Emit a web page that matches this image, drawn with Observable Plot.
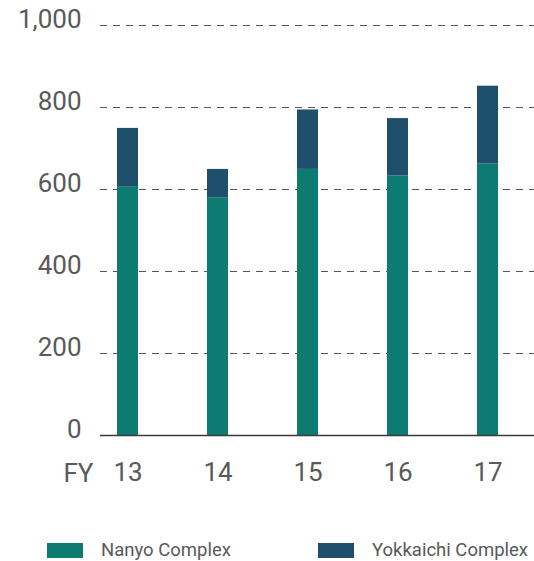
<!DOCTYPE html>
<html>
<head>
<meta charset="utf-8">
<script src="https://cdn.jsdelivr.net/npm/d3@7"></script>
<script src="https://cdn.jsdelivr.net/npm/@observablehq/plot@0.6"></script>
<style>
  html, body { margin: 0; padding: 0; background: #fff; }
  body { width: 534px; height: 561px; overflow: hidden; position: relative; font-family: Roboto, "Liberation Sans", sans-serif; }
  #chart svg { display: block; }
  .item { position: absolute; top: 541px; height: 18px; display: flex; align-items: center; color: #58595b; font-size: 18.5px; line-height: 18px; white-space: nowrap; }
  .sw { width: 36px; height: 15px; margin-right: 18px; flex: none; }
</style>
</head>
<body>
<div id="chart"></div>
<div id="legend"></div>
<script>
const years = ["13", "14", "15", "16", "17"];
const series = ["Nanyo Complex", "Yokkaichi Complex"];
const nanyo = [607, 579, 649, 633, 662];
const yokkaichi = [142, 70, 145, 140, 190];
const colors = ["#0e7b73", "#1e506b"];
const yTicks = [0, 200, 400, 600, 800, 1000];

const data = [];
years.forEach((y, i) => {
  data.push({year: y, series: series[0], value: nanyo[i]});
  data.push({year: y, series: series[1], value: yokkaichi[i]});
});

const chart = Plot.plot({
  width: 534,
  height: 500,
  marginLeft: 100,
  marginRight: 0,
  marginTop: 25,
  marginBottom: 65,
  style: {fontFamily: "Roboto, 'Liberation Sans', sans-serif", fontSize: "26px", color: "#58595b", background: "#fff"},
  x: {domain: years, paddingInner: 0.762, paddingOuter: 0.279, align: 0.32, label: null},
  y: {domain: [0, 1000], label: null},
  color: {domain: series, range: colors},
  marks: [
    Plot.ruleY(yTicks.filter(d => d > 0), {stroke: "#555", strokeWidth: 1, strokeDasharray: "7,6"}),
    Plot.barY(data, {x: "year", y: "value", fill: "series", order: series}),
    Plot.ruleY([0], {stroke: "#3a3a3a", strokeWidth: 1.5}),
    Plot.axisY({ticks: yTicks, tickFormat: d3.format(","), tickSize: 0, tickPadding: 19, dy: -6, fill: "#58595b", label: null, fontSize: 26}),
    Plot.axisX({tickSize: 0, tickPadding: 27, fill: "#58595b", label: null, fontSize: 26}),
    Plot.text(["FY"], {frameAnchor: "bottom-left", textAnchor: "start", lineAnchor: "middle", dx: -37, dy: 38, fill: "#58595b", fontSize: 26})
  ]
});
document.getElementById("chart").appendChild(chart);

const legend = d3.select("#legend");
const lefts = [47, 318];
series.forEach((s, i) => {
  const item = legend.append("div").attr("class", "item").style("left", lefts[i] + "px");
  item.append("div").attr("class", "sw").style("background", colors[i]);
  item.append("span").text(s);
});
</script>
</body>
</html>
